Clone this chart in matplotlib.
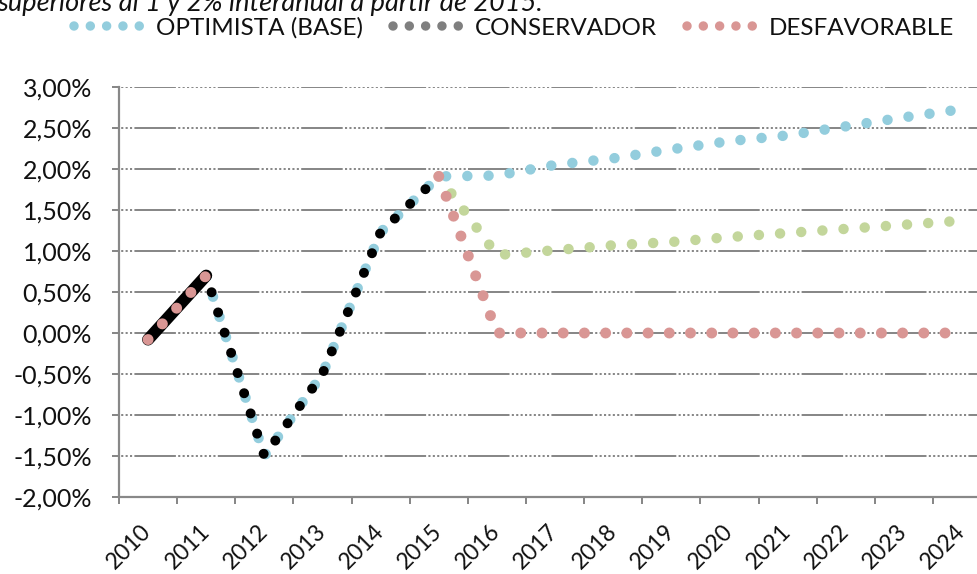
import numpy as np
import matplotlib
matplotlib.use("Agg")
import matplotlib.pyplot as plt
from matplotlib.lines import Line2D
from matplotlib.ticker import FuncFormatter, FixedLocator

plt.rcParams['lines.scale_dashes'] = False
plt.rcParams['font.family'] = ['Lato', 'DejaVu Sans']

# ---------------- data ----------------
years = np.arange(2010, 2025)                     # categories
year_labels = [str(y) for y in years]
# annual values (%), plotted at the centre of each year
historico = np.array([-0.08, 0.70, -1.50, -0.50, 1.23, 1.91])          # 2010-2015
optimista = np.array([-0.08, 0.70, -1.50, -0.50, 1.23, 1.91,
                      1.92, 2.05, 2.13, 2.24, 2.34, 2.41, 2.52, 2.63, 2.73])
conservador = np.array([np.nan, np.nan, np.nan, np.nan, np.nan, 1.91,
                        0.95, 1.01, 1.07, 1.11, 1.17, 1.22, 1.27, 1.32, 1.37])
desfavorable = np.array([-0.08, 0.70, np.nan, np.nan, np.nan, 1.91,
                         0.0, 0.0, 0.0, 0.0, 0.0, 0.0, 0.0, 0.0, 0.0])
yticks = np.arange(-2.0, 3.01, 0.5)
title_text = "superiores al 1 y 2% interanual a partir de 2015."
legend_labels = ["OPTIMISTA (BASE)", "CONSERVADOR", "DESFAVORABLE"]

# ---------------- styles ----------------
C_BLUE = '#93CDDD'
C_GREEN = '#C3D69B'
C_RED = '#D99694'
C_BLACK = '#000000'
C_LEG_GRAY = '#7F7F7F'
C_AXIS = '#888888'
C_TEXT = '#111111'
PX = 72 / 100.0  # points per pixel
SP = 21.2        # dot spacing in px

def dots(spacing_px, offset_px=0.0):
    return (offset_px * PX, (0.01, spacing_px * PX))

W, H = 977, 574
fig = plt.figure(figsize=(W / 100, H / 100), dpi=100)
ax = fig.add_axes([119 / W, 1 - 497 / H, (W - 119) / W, (497 - 87) / H])

xc = years + 0.5  # centre of each year category

# grid with Excel-like dash pattern (long dash + dotted run)
grid_seq = [41.5, 2.3] + [2.1, 2.3] * 9
grid_ls = (68 * PX, [v * PX for v in grid_seq])
for yv in yticks[1:]:
    ax.axhline(yv, color=C_AXIS, lw=2.0 * PX, linestyle=grid_ls, zorder=1)

lw_dot = 10.5 * PX
ax.plot(xc, optimista, color=C_BLUE, lw=lw_dot, linestyle=dots(SP, 18.7),
        dash_capstyle='round', zorder=3)
ax.plot(xc, conservador, color=C_GREEN, lw=lw_dot, linestyle=dots(SP),
        dash_capstyle='round', zorder=4)
# solid thick start of history
ax.plot(xc[:2], historico[:2], color=C_BLACK, lw=12 * PX,
        solid_capstyle='round', zorder=5)
ax.plot(xc[1:len(historico)], historico[1:], color=C_BLACK, lw=10 * PX,
        linestyle=dots(SP, 3.7), dash_capstyle='round', zorder=7)
ax.plot(xc, desfavorable, color=C_RED, lw=11 * PX, linestyle=dots(SP),
        dash_capstyle='round', zorder=6)

ax.set_xlim(2010, 2010 + (W - 119) / 58.14)
ax.set_ylim(-2.0, 3.0)

for s in ['top', 'right']:
    ax.spines[s].set_visible(False)
for s in ['left', 'bottom']:
    ax.spines[s].set_color(C_AXIS)
    ax.spines[s].set_linewidth(2.2 * PX)

ax.yaxis.set_major_locator(FixedLocator(yticks))
ax.yaxis.set_major_formatter(FuncFormatter(lambda v, p: f"{v:.2f}".replace('.', ',') + '%'))
ax.tick_params(axis='y', length=7 * PX, width=2 * PX, color=C_AXIS, pad=20 * PX,
               labelsize=18, labelcolor=C_TEXT)

ax.xaxis.set_major_locator(FixedLocator(np.append(years, years[-1] + 1)))
ax.xaxis.set_major_formatter(FuncFormatter(lambda v, p: ''))
ax.xaxis.set_minor_locator(FixedLocator(xc))
ax.set_xticklabels(year_labels, minor=True, rotation=45, ha='right', va='center',
                   rotation_mode='anchor', fontsize=16.5, color=C_TEXT)
ax.tick_params(axis='x', which='major', length=7 * PX, width=2 * PX, color=C_AXIS)
ax.tick_params(axis='x', which='minor', length=0, pad=31 * PX)

# legend
leg_sp = 16.3 * PX
handles = [
    Line2D([], [], color=C_BLUE, lw=9.5 * PX, linestyle=(0, (0.01, leg_sp)), dash_capstyle='round'),
    Line2D([], [], color=C_LEG_GRAY, lw=9.5 * PX, linestyle=(0, (0.01, leg_sp)), dash_capstyle='round'),
    Line2D([], [], color=C_RED, lw=9.5 * PX, linestyle=(0, (0.01, leg_sp)), dash_capstyle='round'),
]
fs_leg = 17.5
fs_px = fs_leg / PX
leg = fig.legend(handles, legend_labels, loc='center left',
                 bbox_to_anchor=(74 / W, 1 - 28 / H), ncol=3, frameon=False,
                 fontsize=fs_leg, handlelength=66 / fs_px, handletextpad=16 / fs_px,
                 columnspacing=30 / fs_px, borderpad=0, borderaxespad=0)
for t in leg.get_texts():
    t.set_color(C_TEXT)

fig.text(-3 / W, 1 - 11 / H, title_text, fontsize=19.5, style='italic',
         ha='left', va='baseline', color=C_TEXT)

fig.savefig('out.png', dpi=100)
